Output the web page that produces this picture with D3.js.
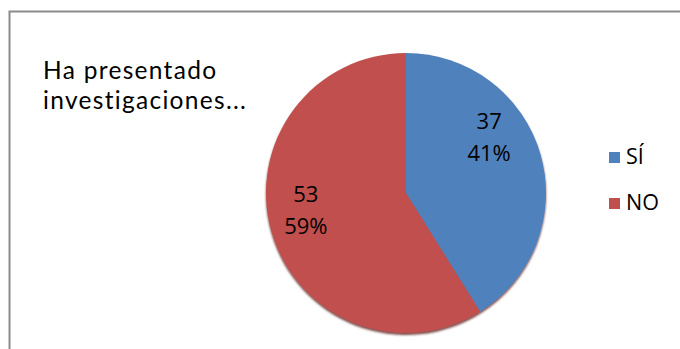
<!DOCTYPE html>
<html><head><meta charset="utf-8">
<script src="https://cdn.jsdelivr.net/npm/d3@7"></script>
<style>html,body{margin:0;padding:0;background:#fff;}svg{display:block;}</style>
</head><body>
<script>
const categories = ["SÍ", "NO"];
const values = [37, 53];
const percents = ["41%", "59%"];
const titleLines = ["Ha presentado", "investigaciones..."];
const colors = ["#4F81BD", "#C0504D"];

const W = 680, H = 349;
const svg = d3.select("body").append("svg").attr("width", W).attr("height", H);
const font = "'Open Sans', sans-serif";

// frame
svg.append("rect").attr("x", 9.5).attr("y", 11.5).attr("width", W + 10).attr("height", H + 10)
  .attr("fill", "#fff").attr("stroke", "#8c8c8c").attr("stroke-width", 2);

// title
svg.append("g").selectAll("text").data(titleLines).join("text")
  .attr("x", 43).attr("y", (d, i) => 79 + i * 29.5)
  .attr("font-family", "Lato, sans-serif").attr("font-size", 24.5).attr("letter-spacing", 1.3).attr("fill", "#000")
  .text(d => d);

const cx = 406, cy = 193, R = 140;
const defs = svg.append("defs");
const f = defs.append("filter").attr("id", "sh").attr("x", "-10%").attr("y", "-10%").attr("width", "120%").attr("height", "120%");
f.append("feDropShadow").attr("dx", 0).attr("dy", 2).attr("stdDeviation", 1.2).attr("flood-color", "#5a1a18").attr("flood-opacity", 0.8);

const pie = d3.pie().sort(null).value(d => d)(values);
const arc = d3.arc().innerRadius(0).outerRadius(R);
const g = svg.append("g").attr("transform", `translate(${cx},${cy})`);
g.append("g").attr("filter", "url(#sh)").selectAll("path").data(pie).join("path")
  .attr("d", arc).attr("fill", (d, i) => colors[i]);

const labelArc = d3.arc().innerRadius(100).outerRadius(100);
const labelShift = [[-13, -34], [-4, -16]];
const lab = g.append("g").selectAll("text").data(pie).join("text")
  .attr("transform", (d, i) => {
    const c = labelArc.centroid(d);
    return `translate(${c[0] + labelShift[i][0]},${c[1] + labelShift[i][1]})`;
  })
  .attr("text-anchor", "middle").attr("font-family", font).attr("font-size", 22).attr("fill", "#000");
lab.append("tspan").attr("x", 0).attr("dy", "-0.1em").text((d, i) => values[i]);
lab.append("tspan").attr("x", 0).attr("dy", "1.45em").text((d, i) => percents[i]);

// legend
const leg = svg.append("g").selectAll("g").data(categories).join("g")
  .attr("transform", (d, i) => `translate(609,${152 + i * 46})`);
leg.append("rect").attr("width", 11).attr("height", 11).attr("fill", (d, i) => colors[i]);
leg.append("text").attr("x", 17).attr("y", 12).attr("font-family", font).attr("font-size", 21.5).attr("fill", "#000").text(d => d);
</script>
</body></html>
